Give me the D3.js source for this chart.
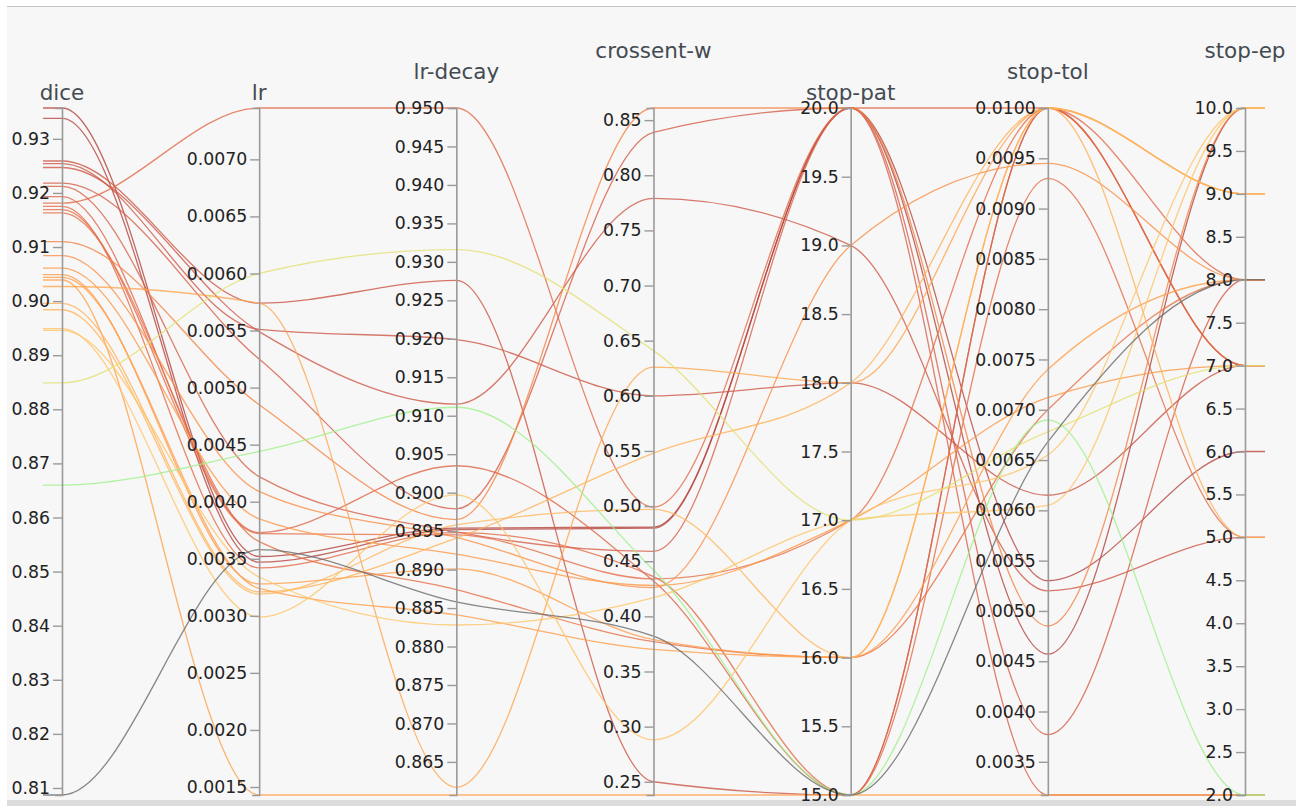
<!DOCTYPE html>
<html>
<head>
<meta charset="utf-8">
<script src="https://cdn.jsdelivr.net/npm/d3@7"></script>
<style>
  html, body { margin: 0; padding: 0; background: #ffffff; }
  svg { display: block; font-family: "DejaVu Sans", sans-serif; }
</style>
</head>
<body>
<svg id="chart" width="1296" height="806"></svg>
<script>
// Hyper-parameter sweep: one run per polyline.
const dimensions = ["dice", "lr", "lr-decay", "crossent-w", "stop-pat", "stop-tol", "stop-ep"];

const dice = [0.9357, 0.9338, 0.9259, 0.9254, 0.9247, 0.9218, 0.9212, 0.9193, 0.9181, 0.9175,
              0.9169, 0.9163, 0.9110, 0.9084, 0.9061, 0.9049, 0.9044, 0.9039, 0.9027, 0.8996,
              0.8984, 0.8949, 0.8946, 0.8849, 0.8660, 0.8087];
const lr = [0.00352, 0.00347, 0.00574, 0.00551, 0.00549, 0.00525, 0.00422, 0.00373, 0.00745, 0.00342,
            0.00372, 0.00365, 0.00485, 0.00409, 0.00385, 0.00328, 0.00324, 0.00143, 0.00574, 0.00321,
            0.00319, 0.00299, 0.00334, 0.00600, 0.00444, 0.00358];
const lrDecay = [0.8954, 0.8952, 0.9276, 0.9199, 0.9115, 0.8979, 0.8949, 0.9035, 0.9500, 0.8948,
                 0.8945, 0.8874, 0.8965, 0.8942, 0.8920, 0.8901, 0.8841, 0.8607, 0.8617, 0.8941,
                 0.8958, 0.8997, 0.8828, 0.9316, 0.9111, 0.8858];
const crossentW = [0.481, 0.480, 0.250, 0.600, 0.779, 0.839, 0.459, 0.432, 0.499, 0.436,
                   0.434, 0.377, 0.861, 0.426, 0.428, 0.379, 0.370, 0.238, 0.626, 0.548,
                   0.497, 0.288, 0.417, 0.641, 0.442, 0.382];
const stopPat = [20, 20, 15, 18, 19, 20, 20, 15, 20, 15,
                 17, 16, 20, 19, 17, 16, 16, 15, 18, 18,
                 16, 17, 17, 17, 15, 15];
const stopTol = [0.00457, 0.00530, 0.0100, 0.00615, 0.00520, 0.00377, 0.00317, 0.0100, 0.0100, 0.00930,
                 0.0100, 0.00700, 0.00485, 0.00945, 0.00712, 0.0100, 0.00740, 0.00317, 0.0100, 0.0100,
                 0.0100, 0.00655, 0.00605, 0.00678, 0.00690, 0.00668];
const stopEp = [10, 6, 7, 7, 5, 8, 2, 7, 8, 5,
                7, 8, 10, 8, 7, 9, 8, 2, 9, 5,
                9, 10, 10, 7, 2, 8];

// Tick spacing and label format for each axis
const tickSteps = [0.01, 0.0005, 0.005, 0.05, 0.5, 0.0005, 0.5];
const tickFormats = [".2f", ".4f", ".3f", ".2f", ".1f", ".4f", ".1f"];

// Colour by dice score
const colorStops = [0.809, 0.866, 0.885, 0.895, 0.905, 0.913, 0.921, 0.936];
const colorRange = ["#6a6a6a", "#9ef08a", "#e4e070", "#ffc466", "#ff9c48", "#f07a44", "#d8604a", "#b0423c"];

const columns = [dice, lr, lrDecay, crossentW, stopPat, stopTol, stopEp];
const runs = dice.map((_, i) => {
  const r = {};
  dimensions.forEach((d, k) => { r[d] = columns[k][i]; });
  return r;
});

const W = 1296, H = 806;
const plotTop = 108, plotBottom = 795;
const svg = d3.select("#chart");

// panel background and frame
svg.append("rect").attr("x", 7).attr("y", 7).attr("width", W - 7).attr("height", 793).attr("fill", "#f7f7f7");
svg.append("line").attr("x1", 7).attr("x2", W).attr("y1", 6.5).attr("y2", 6.5).attr("stroke", "#c4c4c4").attr("stroke-width", 1.2);
svg.append("rect").attr("x", 7).attr("y", 800).attr("width", W - 7).attr("height", 6).attr("fill", "#dcdcdc");

const x = d3.scalePoint().domain(dimensions).range([62, 1245]);
const y = {};
dimensions.forEach((d, k) => {
  y[d] = d3.scaleLinear().domain(d3.extent(columns[k])).range([plotBottom, plotTop]);
});

const color = d3.scaleLinear().domain(colorStops).range(colorRange).clamp(true);

const line = d3.line().curve(d3.curveMonotoneX);
function pathFor(r) {
  const pts = dimensions.map(d => [x(d), y[d](r[d])]);
  pts.unshift([x(dimensions[0]) - 19, pts[0][1]]);
  const last = pts[pts.length - 1];
  pts.push([last[0] + 20, last[1]]);
  return line(pts);
}

// best runs underneath, weaker runs drawn on top
const order = runs.slice().sort((a, b) => b.dice - a.dice);
svg.append("g")
  .attr("fill", "none")
  .selectAll("path")
  .data(order)
  .join("path")
  .attr("d", pathFor)
  .attr("stroke", r => color(r.dice))
  .attr("stroke-width", 1.3)
  .attr("stroke-opacity", 0.8);

// axes
dimensions.forEach((d, k) => {
  const sc = y[d];
  const [lo, hi] = sc.domain();
  const step = tickSteps[k];
  const first = Math.ceil(lo / step - 1e-9) * step;
  const ticks = d3.range(first, hi + step * 1e-6, step);
  const g = svg.append("g")
    .attr("transform", `translate(${x(d)},0)`)
    .call(d3.axisLeft(sc).tickValues(ticks).tickFormat(d3.format(tickFormats[k])).tickSize(9).tickSizeOuter(7).tickPadding(3));
  g.select(".domain").attr("stroke", "#9a9a9a").attr("stroke-width", 1.6);
  g.selectAll(".tick line").attr("stroke", "#9a9a9a").attr("stroke-width", 1.4);
  g.selectAll(".tick text").attr("fill", "#222").attr("font-size", 17.3).attr("font-family", "DejaVu Sans, sans-serif");

  const level = k === 0 ? 0 : (k - 1) % 3;
  svg.append("text")
    .attr("x", x(d))
    .attr("y", 100 - level * 21)
    .attr("text-anchor", "middle")
    .attr("font-size", 21.5)
    .attr("fill", "#444a52")
    .text(d);
});
</script>
</body>
</html>
